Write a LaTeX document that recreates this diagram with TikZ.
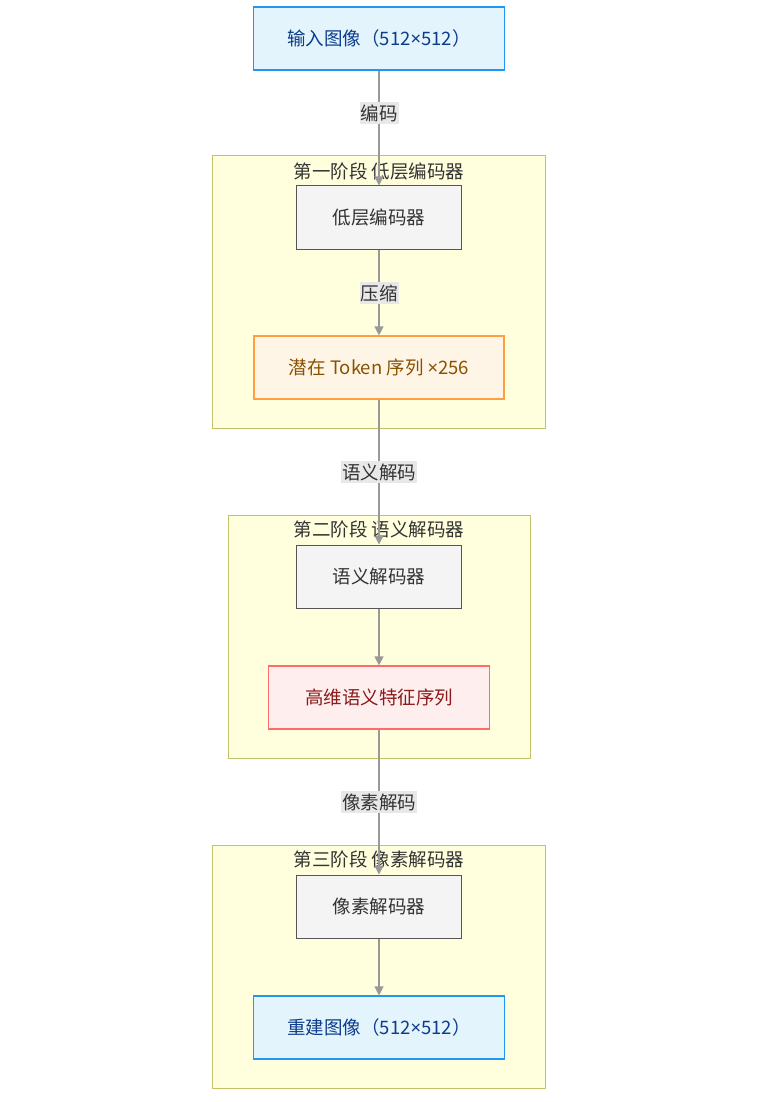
\documentclass[tikz,border=0pt]{standalone}
\usepackage{fontspec}
\setmainfont{Noto Sans CJK SC}
\newfontfamily\latfont{Noto Sans}
\usetikzlibrary{arrows.meta}
\definecolor{blueF}{HTML}{E3F4FD}
\definecolor{blueD}{HTML}{2196F3}
\definecolor{blueT}{HTML}{0D3C8C}
\definecolor{grayF}{HTML}{F4F4F4}
\definecolor{grayD}{HTML}{555555}
\definecolor{orF}{HTML}{FFF5E6}
\definecolor{orD}{HTML}{FFA040}
\definecolor{orT}{HTML}{8A5200}
\definecolor{rdF}{HTML}{FFEEEE}
\definecolor{rdD}{HTML}{FF6B6B}
\definecolor{rdT}{HTML}{8B1A1A}
\definecolor{clF}{HTML}{FFFFDE}
\definecolor{clD}{HTML}{C3C36A}
\definecolor{edge}{HTML}{999999}
\definecolor{lblF}{HTML}{E8E8E8}
\newcommand{\tms}{{\latfont ×}}
\tikzset{
  base/.style={draw, line width=1.2pt, minimum height=63pt, inner sep=0pt, font=\fontsize{18.5}{22}\selectfont},
  bluebox/.style={base, fill=blueF, draw=blueD, text=blueT, minimum width=251pt},
  graybox/.style={base, fill=grayF, draw=grayD, text=black!80, minimum width=165pt, line width=1pt},
  orangebox/.style={base, fill=orF, draw=orD, text=orT, minimum width=250pt},
  redbox/.style={base, fill=rdF, draw=rdD, text=rdT, minimum width=221pt},
  cluster/.style={draw=clD, fill=clF, line width=1pt},
  ctitle/.style={font=\fontsize{18.5}{22}\selectfont, text=black!80, inner sep=0pt},
  elabel/.style={fill=lblF, font=\fontsize{18.5}{22}\selectfont, text=black!80, inner xsep=1pt, inner ysep=2pt},
  conn/.style={draw=edge, line width=1.3pt, -{Triangle[length=9pt,width=9pt]}},
}
\begin{document}
\begin{tikzpicture}[x=1pt,y=-1pt]
\useasboundingbox (0,0) rectangle (760,1102);
% clusters
\draw[cluster] (212,156) rectangle (545,428);
\draw[cluster] (228,515) rectangle (530,758);
\draw[cluster] (212,845) rectangle (545,1088);
\node[ctitle] (t1) at (379,171) {第一阶段 低层编码器};
\node[ctitle] (t2) at (379,529) {第二阶段 语义解码器};
\node[ctitle] (t3) at (379,859) {第三阶段 像素解码器};
% nodes
\node[bluebox] (in) at (379,38.5) {输入图像（512\tms512）};
\node[graybox] (enc) at (379,217.5) {低层编码器};
\node[orangebox] (tok) at (379,367.5) {潜在 Token 序列 \tms256};
\node[graybox] (sem) at (379,576.5) {语义解码器};
\node[redbox] (feat) at (379,697.5) {高维语义特征序列};
\node[graybox] (pix) at (379,906.5) {像素解码器};
\node[bluebox] (out) at (379,1027.5) {重建图像（512\tms512）};
% edges
\draw[conn] (in.south) -- (enc.north);
\draw[conn] (enc.south) -- (tok.north);
\draw[conn] (tok.south) -- (sem.north);
\draw[conn] (sem.south) -- (feat.north);
\draw[conn] (feat.south) -- (pix.north);
\draw[conn] (pix.south) -- (out.north);
% edge labels
\node[elabel] (l1) at (379,113) {编码};
\node[elabel] (l2) at (379,293) {压缩};
\node[elabel] (l3) at (379,472) {语义解码};
\node[elabel] (l4) at (379,802) {像素解码};
\end{tikzpicture}
\end{document}
